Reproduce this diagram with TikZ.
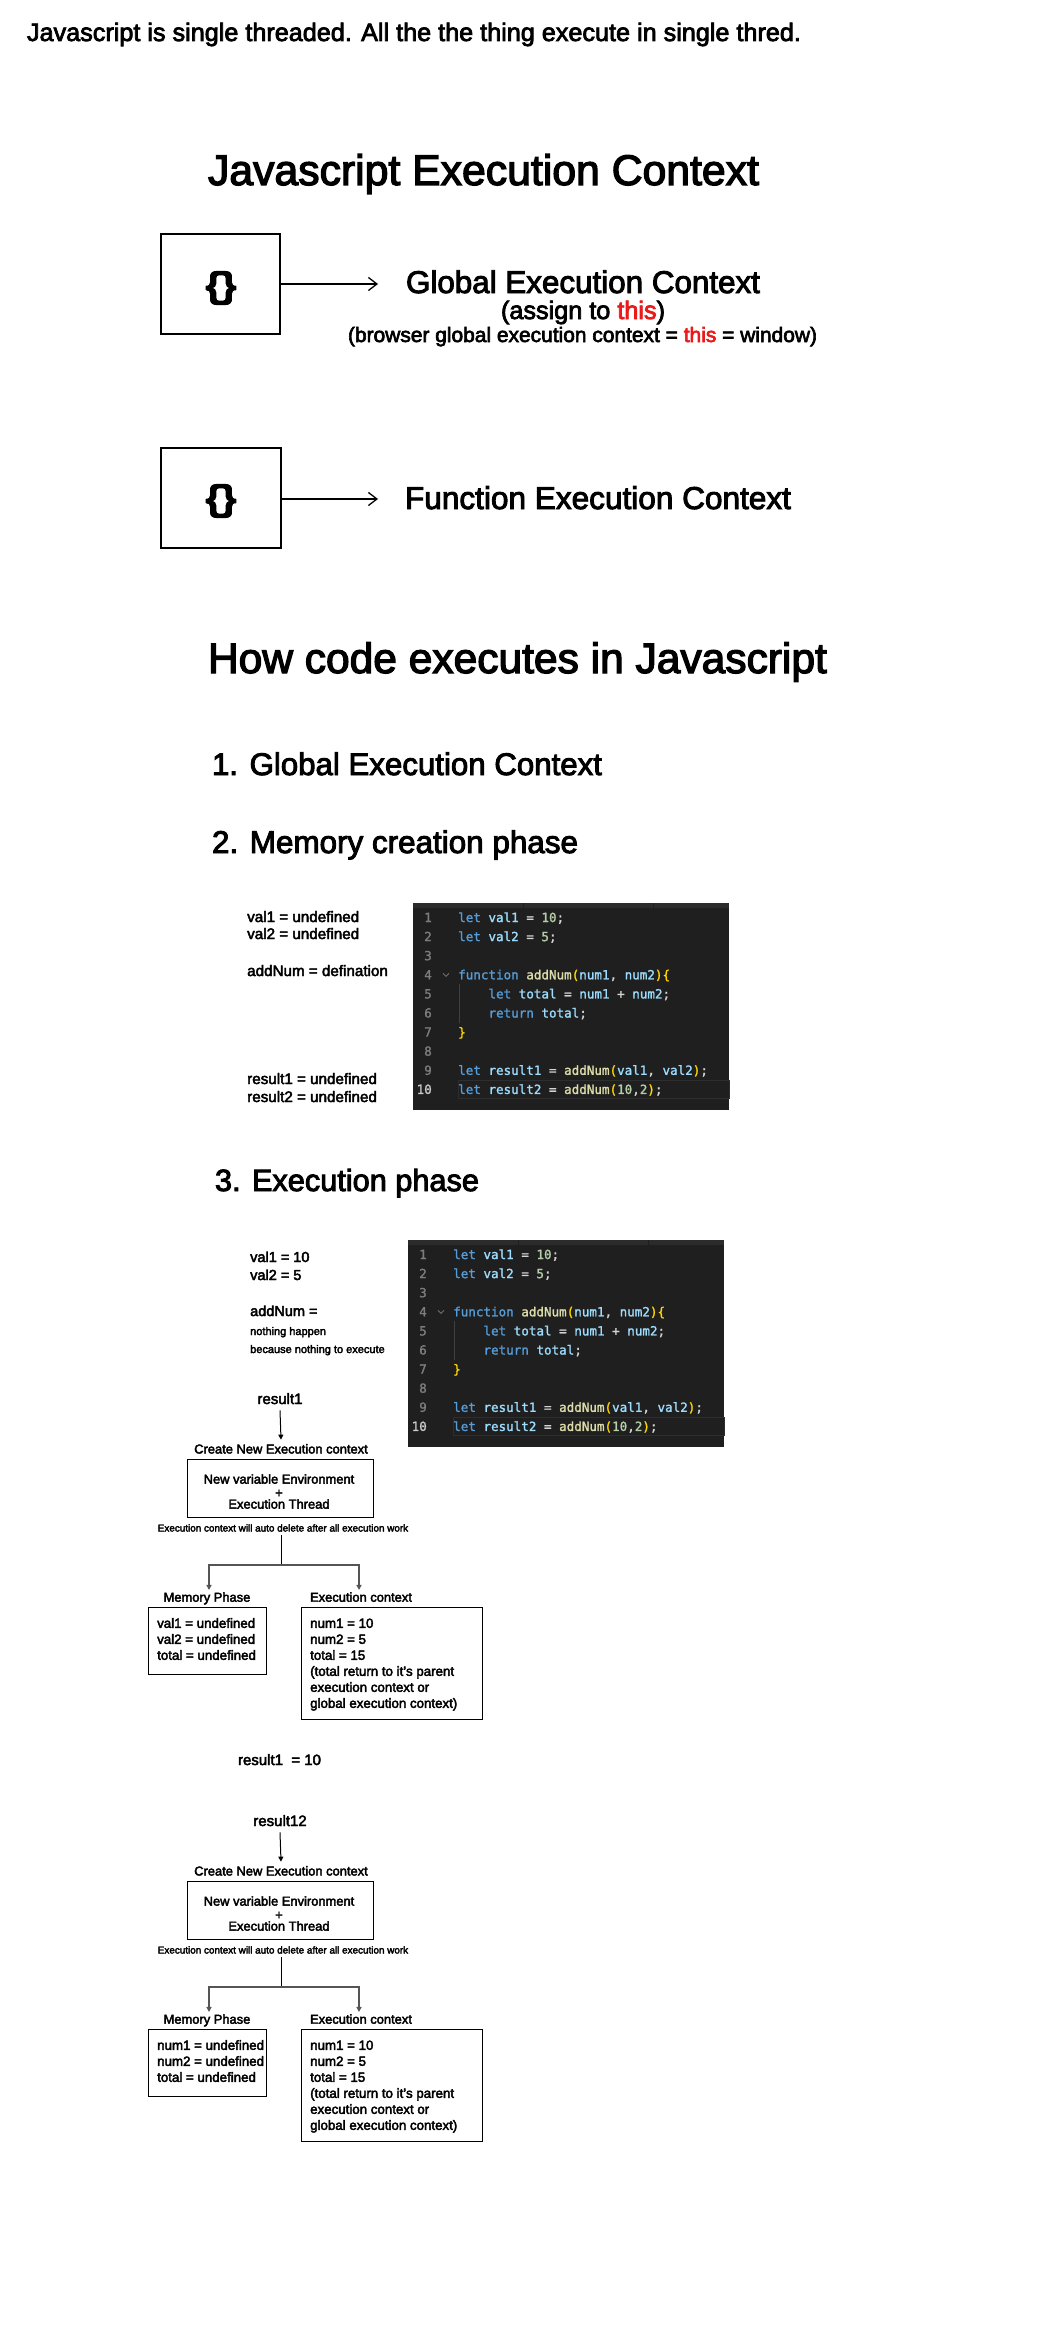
\documentclass[tikz,border=0pt]{standalone}
\usepackage{fontspec}
\setmainfont{Liberation Sans}[FakeBold=3]
\newfontfamily\codefont{DejaVu Sans Mono}[FakeBold=1.5]
\usetikzlibrary{arrows.meta}
\definecolor{jsred}{RGB}{232,26,26}
\definecolor{codebg}{HTML}{1F1F1F}
\definecolor{codestrip}{HTML}{2B2B2B}
\definecolor{codehl}{HTML}{2E2E2E}
\definecolor{codeguide}{HTML}{404040}
\definecolor{ckw}{HTML}{569CD6}
\definecolor{cid}{HTML}{9CDCFE}
\definecolor{cnm}{HTML}{B5CEA8}
\definecolor{cfn}{HTML}{DCDCAA}
\definecolor{cbr}{HTML}{FFD700}
\definecolor{cop}{HTML}{D4D4D4}
\definecolor{clnum}{HTML}{7D7D7D}
\definecolor{clnact}{HTML}{CCCCCC}
\definecolor{branch}{HTML}{555555}
\newcommand\cKw[1]{\textcolor{ckw}{#1}}
\newcommand\cId[1]{\textcolor{cid}{#1}}
\newcommand\cNm[1]{\textcolor{cnm}{#1}}
\newcommand\cFn[1]{\textcolor{cfn}{#1}}
\newcommand\cBr[1]{\textcolor{cbr}{#1}}
\newcommand\cOp[1]{\textcolor{cop}{#1}}
\newcommand\fw[2]{\resizebox{#1pt}{!}{#2}}
\newcommand\codeblock[3]{%
\begin{scope}[shift={(#2,#3)}]
\node[codebox, anchor=north west] (#1) at (0,0) {};
\fill[codestrip] (0,0) rectangle (316,5);
\draw[codebg, line width=0.8pt] (110,0) -- (110,5);
\draw[codebg, line width=0.8pt] (240,0) -- (240,5);
\draw[codehl, line width=1pt] (45,177) rectangle (316,195.5);
\draw[codeguide, line width=0.8pt] (46,81.4) -- (46,119.5);
\draw[clnum, line width=0.7pt] (30,70.3) -- (33,73.3) -- (36,70.3);
\foreach \i in {1,...,9} {\node[lnum] at (19,{19+19.1*(\i-1)}) {\i};}
\node[lnum, text=clnact] at (19,{19+19.1*9}) {10};
\node[codetxt] (#1l1) at (45,19) {\cKw{let} \cId{val1} \cOp{=} \cNm{10}\cOp{;}};
\node[codetxt] (#1l2) at (45,38.1) {\cKw{let} \cId{val2} \cOp{=} \cNm{5}\cOp{;}};
\node[codetxt] (#1l4) at (45,76.3) {\cKw{function} \cFn{addNum}\cBr{(}\cId{num1}\cOp{,} \cId{num2}\cBr{)}\cBr{\{}};
\node[codetxt] (#1l5) at (75.3,95.4) {\cKw{let} \cId{total} \cOp{=} \cId{num1} \cOp{+} \cId{num2}\cOp{;}};
\node[codetxt] (#1l6) at (75.3,114.5) {\cKw{return} \cId{total}\cOp{;}};
\node[codetxt] (#1l7) at (45,133.6) {\cBr{\}}};
\node[codetxt] (#1l9) at (45,171.8) {\cKw{let} \cId{result1} \cOp{=} \cFn{addNum}\cBr{(}\cId{val1}\cOp{,} \cId{val2}\cBr{)}\cOp{;}};
\node[codetxt] (#1l10) at (45,190.9) {\cKw{let} \cId{result2} \cOp{=} \cFn{addNum}\cBr{(}\cNm{10}\cOp{,}\cNm{2}\cBr{)}\cOp{;}};
\end{scope}}
\newcommand\ecgroup[5]{%
\begin{scope}[shift={(0,#2)}]
\node[lblA] (res#1) at (280,1404) {#3};
\node[lblB] (cn#1) at (281,1453.5) {Create New Execution context};
\node[ebox, minimum width=186pt, minimum height=58pt] (env#1) at (280,1488) {};
\node[lblB] (envt#1) at (279,1483.6) {New variable Environment};
\node[lblB, anchor=center] (envp#1) at (279,1493.5) {+};
\node[lblB] (envb#1) at (279,1508.6) {Execution Thread};
\node[notetxt] (note#1) at (283,1531.5) {Execution context will auto delete after all execution work};
\coordinate (j#1) at (281,1565);
\node[lblB] (mpl#1) at (207,1601.7) {Memory Phase};
\node[lblB] (ecl#1) at (361,1601.7) {Execution context};
\node[ebox, minimum width=118pt, minimum height=67pt] (mb#1) at (207,1640.5) {};
\node[boxtxt] (mba#1) at (157,1627.8) {#4};
\node[boxtxt] (mbb#1) at (157,1643.8) {#5};
\node[boxtxt] (mbc#1) at (157,1659.8) {total = undefined};
\node[ebox, minimum width=181pt, minimum height=112pt] (xb#1) at (391.5,1663) {};
\node[boxtxt] (xba#1) at (310,1627.8) {num1 = 10};
\node[boxtxt] (xbb#1) at (310,1643.8) {num2 = 5};
\node[boxtxt] (xbc#1) at (310,1659.8) {total = 15};
\node[boxtxt] (xbd#1) at (310,1675.8) {(total return to it's parent};
\node[boxtxt] (xbe#1) at (310,1691.8) {execution context or};
\node[boxtxt] (xbf#1) at (310,1707.8) {global execution context)};
\draw[smallarr] ([yshift=-6pt]res#1.south) -- ([yshift=4.3pt]cn#1.north);
\draw[line width=1pt] (j#1 |- note#1.south) ++(0,3.5) -- (j#1);
\draw[brarr] (j#1) -| ([xshift=2pt,yshift=2.2pt]mpl#1.north);
\draw[brarr] (j#1) -| ([xshift=-2pt,yshift=2.2pt]ecl#1.north);
\end{scope}}
\begin{document}
\begin{tikzpicture}[x=1pt,y=-1pt,
  txt/.style={inner sep=0pt, outer sep=0pt, anchor=base west},
  bigbox/.style={draw, line width=1.5pt, inner sep=0pt},
  ebox/.style={draw, line width=1pt, inner sep=0pt},
  arr/.style={-{Straight Barb[length=8.5pt,width=13pt]}, line width=1.3pt},
  smallarr/.style={-{Triangle[length=5pt,width=5pt]}, line width=1pt},
  brarr/.style={-{Triangle[length=5pt,width=5pt]}, line width=1.3pt, draw=branch},
  braces/.style={inner sep=0pt},
  codebox/.style={fill=codebg, minimum width=316pt, minimum height=207pt, inner sep=0pt},
  lnum/.style={anchor=base east, inner sep=0pt, text=clnum, font=\codefont\fontsize{12.57}{14}\selectfont},
  codetxt/.style={anchor=base west, inner sep=0pt, text=cop, font=\codefont\fontsize{12.57}{14}\selectfont},
  lblA/.style={anchor=base, inner sep=0pt, font=\fontsize{15}{18}\selectfont},
  lblB/.style={anchor=base, inner sep=0pt, font=\fontsize{12.9}{15}\selectfont},
  notetxt/.style={anchor=base, inner sep=0pt, font=\fontsize{9.9}{12}\selectfont},
  boxtxt/.style={anchor=base west, inner sep=0pt, font=\fontsize{13.3}{16}\selectfont},
  lefttxt/.style={anchor=base west, inner sep=0pt, font=\fontsize{15.2}{18}\selectfont},
  lefttxtb/.style={anchor=base west, inner sep=0pt, font=\fontsize{14.5}{18}\selectfont},
  smalltxt/.style={anchor=base west, inner sep=0pt, font=\fontsize{11}{13}\selectfont}
]
\fill[white] (0,0) rectangle (1048,2325);
\useasboundingbox (0,0) rectangle (1048,2325);

% header
\node[txt] (hdr) at (27,41) {\fw{774}{\fontsize{21}{25}\selectfont Javascript is single threaded. All the the thing execute in single thred.}};
\node[txt] (title1) at (208,185) {\fw{551}{\fontsize{40}{48}\selectfont Javascript Execution Context}};

% global execution context
\node[bigbox, minimum width=119pt, minimum height=100pt] (b1) at (220.5,284) {};
\node[braces] (br1) at (221,288) {\resizebox*{31pt}{33pt}{\bfseries\{\}}};
\coordinate (a1) at (378,284);
\draw[arr] (b1.east) -- (a1);
\node[txt] (gec) at (406,293) {\fw{354}{\fontsize{29}{34}\selectfont Global Execution Context}};
\node[txt] (assign) at (501,319) {\fw{164}{\fontsize{21}{25}\selectfont (assign to \textcolor{jsred}{this})}};
\node[txt] (browser) at (348,342) {\fw{469}{\fontsize{18}{22}\selectfont (browser global execution context = \textcolor{jsred}{this} = window)}};

% function execution context
\node[bigbox, minimum width=120pt, minimum height=100pt] (b2) at (221,498) {};
\node[braces] (br2) at (221,501) {\resizebox*{31pt}{33pt}{\bfseries\{\}}};
\coordinate (a2) at (378,499);
\draw[arr] (b2.east |- a2) -- (a2);
\node[txt] (fec) at (405,509) {\fw{386}{\fontsize{29}{34}\selectfont Function Execution Context}};

% how code executes
\node[txt] (title2) at (208,673) {\fw{619}{\fontsize{40}{48}\selectfont How code executes in Javascript}};
\node[txt] (step1) at (212,775) {\fw{390}{\fontsize{27}{32}\selectfont 1. Global Execution Context}};
\node[txt] (step2) at (212,853) {\fw{366}{\fontsize{27}{32}\selectfont 2. Memory creation phase}};

% memory creation phase
\node[lefttxt] (m1) at (247,922) {val1 = undefined};
\node[lefttxt] (m2) at (247,939) {val2 = undefined};
\node[lefttxt] (m3) at (247,976) {addNum = defination};
\node[lefttxt] (m4) at (247,1084) {result1 = undefined};
\node[lefttxt] (m5) at (247,1102) {result2 = undefined};
\codeblock{codeA}{413}{903}

% execution phase
\node[txt] (step3) at (215,1191) {\fw{264}{\fontsize{27}{32}\selectfont 3. Execution phase}};
\node[lefttxtb] (e1) at (250,1262) {val1 = 10};
\node[lefttxtb] (e2) at (250,1280) {val2 = 5};
\node[lefttxtb] (e3) at (250,1316) {addNum =};
\node[smalltxt] (e4) at (250,1335) {nothing happen};
\node[smalltxt] (e5) at (250,1353) {because nothing to execute};
\codeblock{codeB}{408}{1240}

\ecgroup{G}{0}{result1}{val1 = undefined}{val2 = undefined}
\node[lblA] (r1val) at (279.5,1765) {result1\ \ = 10};
\ecgroup{H}{422}{result12}{num1 = undefined}{num2 = undefined}
\end{tikzpicture}
\end{document}
